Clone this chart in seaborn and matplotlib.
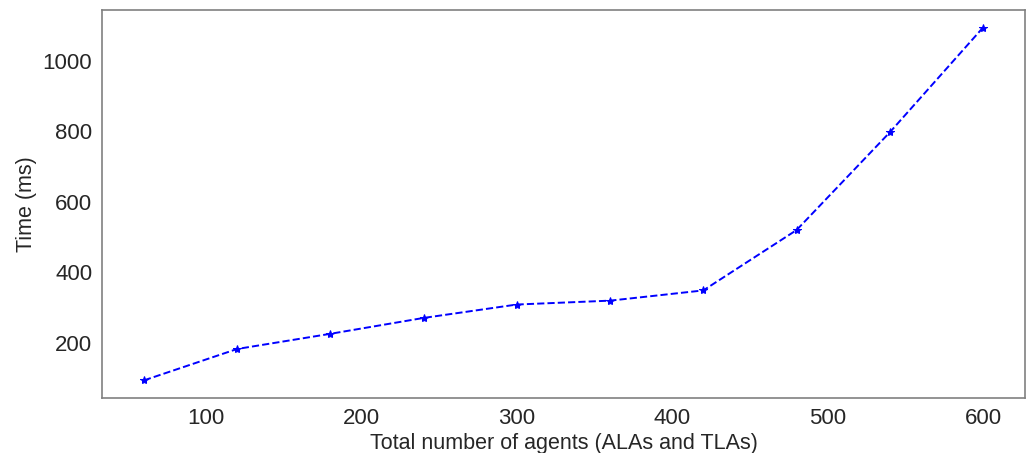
import matplotlib
matplotlib.use("Agg")
import matplotlib.pyplot as plt
import seaborn as sns
import pandas as pd

agents = [60, 120, 180, 240, 300, 360, 420, 480, 540, 600]
time_ms = [94, 183, 226, 271, 309, 320, 349, 520, 797, 1094]

sns.set_style("white")
plt.rcParams['font.family'] = ['Liberation Sans', 'DejaVu Sans']

df = pd.DataFrame({"agents": agents, "time": time_ms})
fig = plt.figure(figsize=(10.27, 4.53), dpi=100)
ax = fig.add_axes([0.0993, 0.1214, 0.8987, 0.8566])
sns.lineplot(data=df, x="agents", y="time", ax=ax, color="blue", linestyle="--",
             marker="*", markersize=6, markeredgecolor="blue", linewidth=1.4)
for s in ax.spines.values():
    s.set_edgecolor("#808080")
    s.set_linewidth(1.2)
ax.set_xlabel("Total number of agents (ALAs and TLAs)", fontsize=15.5, color="#262626", labelpad=3)
ax.set_ylabel("Time (ms)", fontsize=15.5, color="#262626")
ax.tick_params(labelsize=16, colors="#262626")
ax.set_xticks([100, 200, 300, 400, 500, 600])
ax.set_yticks([200, 400, 600, 800, 1000])
fig.savefig("out.png", dpi=100)
